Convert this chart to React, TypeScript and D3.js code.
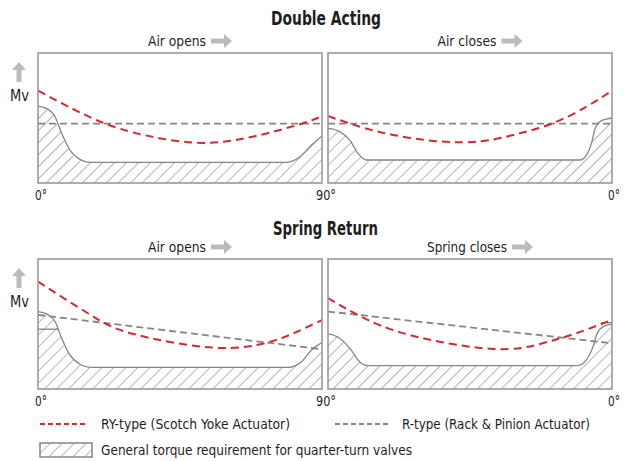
import * as d3 from 'd3';
import React from 'react';

// values: [valve angle in degrees, relative torque Mv]
const daOpenRY: [number, number][] = [[0, 71], [9, 59.5], [18, 49], [30, 39], [50, 31], [68, 35.6], [83.5, 45.6], [90, 51.5]];
const daOpenR: [number, number][] = [[0, 45.6], [90, 45.6]];
const daOpenValve: [number, number][] = [[0, 59.2], [2.7, 57.4], [5.4, 51], [7.5, 38.2], [10.1, 25.4], [13.3, 18.2], [16.5, 15.9], [78.8, 15.9], [83, 20.2], [86.7, 29.2], [90, 36.2]];

const daCloseRY: [number, number][] = [[90, 51.5], [84, 46.5], [69.4, 37], [47, 31.3], [30.3, 37.5], [18.7, 46], [8.1, 58.7], [0, 71]];
const daCloseR: [number, number][] = [[90, 45.6], [0, 45.6]];
const daCloseValve: [number, number][] = [[90, 42], [86.3, 39.5], [83.1, 33], [80.5, 22.8], [77.8, 17.7], [10.2, 17.7], [8.1, 21.5], [6.5, 30.5], [5.5, 40.8], [3.9, 47.2], [1.8, 49.2], [0, 49.8]];

const srOpenRY: [number, number][] = [[0, 82.7], [9, 68.6], [18, 55], [30, 42.5], [55.6, 31.8], [72.5, 35.7], [81, 42.9], [90, 53]];
const srOpenR: [number, number][] = [[0, 57], [90, 30.6]];
const srOpenValve: [number, number][] = [[0, 59.6], [2.7, 57.8], [5.4, 51.9], [7.5, 39.1], [10.1, 26.2], [13.3, 19], [16.5, 16.7], [79.3, 16.7], [83.5, 21], [86.7, 30.1], [90, 35.7]];
const srOpenStop: [number, number][] = [[0, 46], [6.5, 46]];

const srCloseRY: [number, number][] = [[90, 69.9], [80, 56.3], [64, 41.5], [37.7, 30.8], [22, 35.2], [11.3, 42.9], [0, 53.2]];
const srCloseR: [number, number][] = [[90, 59.6], [0, 35.2]];
const srCloseValve: [number, number][] = [[90, 42.4], [86.3, 39.1], [83.1, 31.4], [80, 21], [77.3, 18], [10.8, 18], [8.1, 22.4], [6, 32.6], [4.7, 42.9], [2.8, 48], [0, 49.9]];
const srCloseStop: [number, number][] = [[3.5, 51], [0, 51]];

const sectionTitles = ['Double Acting', 'Spring Return'];
const panelLabels = ['Air opens', 'Air closes', 'Air opens', 'Spring closes'];
const tickLabels = ['0°', '90°', '0°'];
const legendLabels = ['RY-type (Scotch Yoke Actuator)', 'R-type (Rack & Pinion Actuator)', 'General torque requirement for quarter-turn valves'];

const RED = '#d7282f';
const GREY = '#858585';
const INK = '#1e1e1e';
const FONT = "'Liberation Sans Narrow', 'DejaVu Sans Condensed', 'Roboto Condensed', Roboto, sans-serif";

interface PanelDef {
    x: number;
    y: number;
    reverse: boolean;
    label: string;
    labelLen: number;
    ry: [number, number][];
    r: [number, number][];
    valve: [number, number][];
    stop?: [number, number][];
}

const PW = 284;
const PH = 130;

const panels: PanelDef[] = [
    { x: 38, y: 53, reverse: false, label: panelLabels[0], labelLen: 58, ry: daOpenRY, r: daOpenR, valve: daOpenValve },
    { x: 328, y: 53, reverse: true, label: panelLabels[1], labelLen: 59, ry: daCloseRY, r: daCloseR, valve: daCloseValve },
    { x: 38, y: 259, reverse: false, label: panelLabels[2], labelLen: 58, ry: srOpenRY, r: srOpenR, valve: srOpenValve, stop: srOpenStop },
    { x: 328, y: 259, reverse: true, label: panelLabels[3], labelLen: 80, ry: srCloseRY, r: srCloseR, valve: srCloseValve, stop: srCloseStop },
];

function RightArrow({ x, y }: { x: number; y: number }) {
    return <path d={`M${x},${y - 2.5}h13v-4.5l8,7l-8,7v-4.5h-13z`} fill="#bbb" />;
}

function UpArrow({ x, y }: { x: number; y: number }) {
    return <path d={`M${x - 2.5},${y + 20}v-12h-4.5l7,-8l7,8h-4.5v12z`} fill="#bbb" />;
}

function Panel({ p, idx }: { p: PanelDef; idx: number }) {
    const x = d3.scaleLinear().domain(p.reverse ? [90, 0] : [0, 90]).range([p.x, p.x + PW]);
    const y = d3.scaleLinear().domain([0, 100]).range([p.y + PH, p.y]);
    const line = d3.line<[number, number]>().x(d => x(d[0])).y(d => y(d[1])).curve(d3.curveMonotoneX);
    const smooth = d3.line<[number, number]>().x(d => x(d[0])).y(d => y(d[1])).curve(d3.curveNatural);
    const area = d3.area<[number, number]>().x(d => x(d[0])).y0(y(0)).y1(d => y(d[1])).curve(d3.curveMonotoneX);
    const cx = p.x + PW / 2 - 3;
    const labelLeft = cx - p.labelLen / 2;
    return (
        <g>
            <clipPath id={`clip${idx}`}>
                <rect x={p.x} y={p.y} width={PW} height={PH} />
            </clipPath>
            <text x={labelLeft} y={p.y - 7} fontSize={14.5} textLength={p.labelLen} lengthAdjust="spacingAndGlyphs" fill={INK} fontFamily={FONT}>{p.label}</text>
            <RightArrow x={labelLeft + p.labelLen + 5} y={p.y - 12} />
            <g clipPath={`url(#clip${idx})`}>
                <path d={area(p.valve) || ''} fill="url(#hatch)" />
                <path d={line(p.valve) || ''} fill="none" stroke={GREY} strokeWidth={1.3} />
                {p.stop && <path d={d3.line<[number, number]>().x(d => x(d[0])).y(d => y(d[1]))(p.stop) || ''} stroke={GREY} strokeWidth={1.3} />}
                <path d={line(p.r) || ''} fill="none" stroke={GREY} strokeWidth={1.8} strokeDasharray="7,4" />
                <path d={smooth(p.ry) || ''} fill="none" stroke={RED} strokeWidth={2} strokeDasharray="8,5" />
            </g>
            <rect x={p.x} y={p.y} width={PW} height={PH} fill="none" stroke="#999" strokeWidth={1.6} />
        </g>
    );
}

export default function App() {
    return (
        <svg width={630} height={461} style={{ position: 'absolute', left: 0, top: 0 }}>
            <defs>
                <pattern id="hatch" patternUnits="userSpaceOnUse" width={8.5} height={8.5} patternTransform="rotate(45)">
                    <line x1={0} y1={0} x2={0} y2={8.5} stroke="#7a7a7a" strokeWidth={1.1} />
                </pattern>
            </defs>
            <text x={271} y={25} fontSize={19} fontWeight="bold" textLength={110} lengthAdjust="spacingAndGlyphs" fill={INK} fontFamily={FONT}>{sectionTitles[0]}</text>
            <text x={273} y={235} fontSize={19} fontWeight="bold" textLength={105} lengthAdjust="spacingAndGlyphs" fill={INK} fontFamily={FONT}>{sectionTitles[1]}</text>
            {panels.map((p, i) => <Panel key={i} p={p} idx={i} />)}
            {[53, 259].map((top, i) => (
                <g key={'mv' + i}>
                    <UpArrow x={19} y={top + 9} />
                    <text x={10} y={top + 48} fontSize={15} textLength={19} lengthAdjust="spacingAndGlyphs" fill={INK} fontFamily={FONT}>Mv</text>
                    <text x={35} y={top + PH + 17} fontSize={14.5} textLength={12} lengthAdjust="spacingAndGlyphs" fill={INK} fontFamily={FONT}>{tickLabels[0]}</text>
                    <text x={316} y={top + PH + 17} fontSize={14.5} textLength={20} lengthAdjust="spacingAndGlyphs" fill={INK} fontFamily={FONT}>{tickLabels[1]}</text>
                    <text x={608} y={top + PH + 17} fontSize={14.5} textLength={12} lengthAdjust="spacingAndGlyphs" fill={INK} fontFamily={FONT}>{tickLabels[2]}</text>
                </g>
            ))}
            <line x1={40} x2={88} y1={424} y2={424} stroke={RED} strokeWidth={2} strokeDasharray="5,3" />
            <text x={101} y={429} fontSize={14.5} textLength={189} lengthAdjust="spacingAndGlyphs" fill={INK} fontFamily={FONT}>{legendLabels[0]}</text>
            <line x1={335} x2={390} y1={424} y2={424} stroke={GREY} strokeWidth={1.8} strokeDasharray="5,3" />
            <text x={402} y={429} fontSize={14.5} textLength={188} lengthAdjust="spacingAndGlyphs" fill={INK} fontFamily={FONT}>{legendLabels[1]}</text>
            <rect x={40} y={443} width={52} height={14} fill="url(#hatch)" stroke={GREY} strokeWidth={1.5} />
            <text x={101} y={455} fontSize={14.5} textLength={311} lengthAdjust="spacingAndGlyphs" fill={INK} fontFamily={FONT}>{legendLabels[2]}</text>
        </svg>
    );
}
